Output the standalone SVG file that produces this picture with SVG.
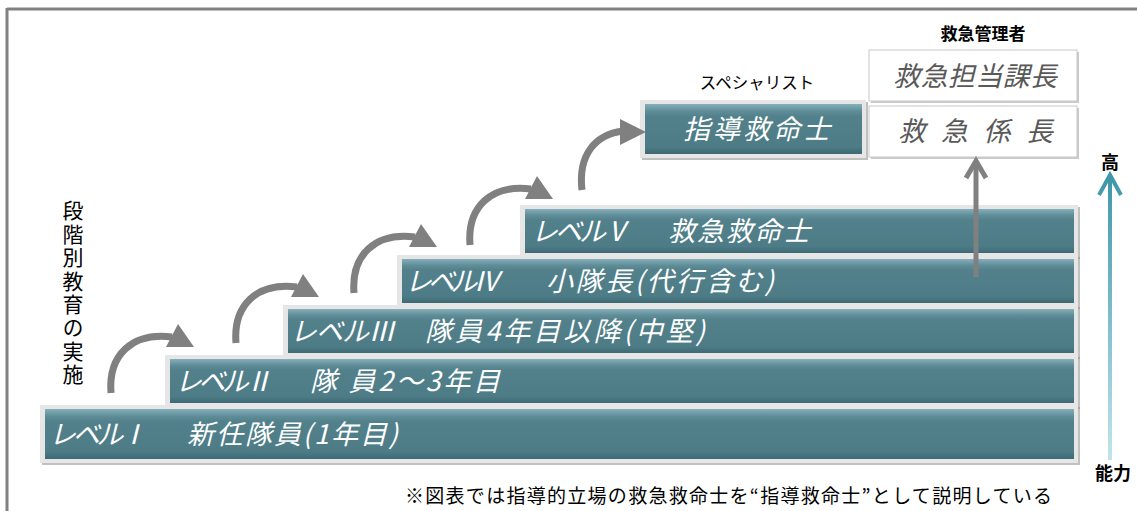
<svg xmlns="http://www.w3.org/2000/svg" width="1137" height="511" viewBox="0 0 1137 511">
<style>
.bt{font-family:"Noto Sans CJK JP","Noto Sans",sans-serif;font-style:italic;font-size:27px;fill:#ffffff}
.gt{font-family:"Noto Sans CJK JP","Noto Sans",sans-serif;font-style:italic;font-size:27px;fill:#595959}
.lbl{font-family:"Noto Sans CJK JP","Noto Sans",sans-serif;fill:#000}
.arc{fill:none;stroke:#808080;stroke-width:7}
.head{fill:#808080}
.frame{fill:#e6e6e6}
.shadow{fill:#8c8c8c;opacity:.55}
.inner{fill:url(#teal)}
</style>
<defs>
<linearGradient id="teal" x1="0" y1="0" x2="0" y2="1">
<stop offset="0" stop-color="#86b0ba"/>
<stop offset="0.14" stop-color="#5f8e99"/>
<stop offset="0.25" stop-color="#52818c"/>
<stop offset="0.85" stop-color="#4d7c87"/>
<stop offset="1" stop-color="#3d6973"/>
</linearGradient>
<linearGradient id="blue" gradientUnits="userSpaceOnUse" x1="0" y1="460" x2="0" y2="172">
<stop offset="0" stop-color="#c2e4eb"/>
<stop offset="1" stop-color="#3d95a8"/>
</linearGradient>
</defs>
<rect width="1137" height="511" fill="#ffffff"/>
<g id="frame">
<line x1="7" y1="9" x2="1137" y2="9" stroke="#808080" stroke-width="3"/>
<line x1="7" y1="8" x2="7" y2="511" stroke="#808080" stroke-width="3"/>
</g>
<text id="vertical-label" class="lbl" x="73" y="200" font-size="21" letter-spacing="2.4" style="writing-mode:vertical-rl">段階別教育の実施</text>
<g id="level5">
<rect class="shadow" x="522" y="207" width="558" height="52"/>
<rect class="frame" x="520" y="205" width="558" height="52"/>
<rect class="inner" x="525" y="209" width="549" height="44"/>
<text class="bt" x="531" y="241" textLength="99">レベルⅤ</text>
<text class="bt" x="668" y="241" textLength="142">救急救命士</text>
</g>
<g id="level4">
<rect class="shadow" x="399" y="257" width="681" height="52"/>
<rect class="frame" x="397" y="255" width="681" height="52"/>
<rect class="inner" x="402" y="259" width="672" height="44"/>
<text class="bt" x="405" y="291" textLength="95">レベルⅣ</text>
<text class="bt" x="546" y="291" textLength="228">小隊長(代行含む)</text>
</g>
<g id="level3">
<rect class="shadow" x="285" y="307" width="795" height="52"/>
<rect class="frame" x="283" y="305" width="795" height="52"/>
<rect class="inner" x="288" y="309" width="786" height="44"/>
<text class="bt" x="290" y="341" textLength="105">レベルⅢ</text>
<text class="bt" x="425" y="341" textLength="280">隊員4年目以降(中堅)</text>
</g>
<g id="level2">
<rect class="shadow" x="167" y="357" width="913" height="52"/>
<rect class="frame" x="165" y="355" width="913" height="52"/>
<rect class="inner" x="170" y="359" width="904" height="44"/>
<text class="bt" x="175" y="391" textLength="97">レベルⅡ</text>
<text class="bt" x="310" y="391" textLength="190">隊 員2～3年目</text>
</g>
<g id="level1">
<rect class="shadow" x="42" y="407" width="1038" height="58"/>
<rect class="frame" x="40" y="405" width="1038" height="58"/>
<rect class="inner" x="45" y="409" width="1029" height="50"/>
<text class="bt" x="49" y="444" textLength="98">レベルⅠ</text>
<text class="bt" x="187" y="444" textLength="211">新任隊員(1年目)</text>
</g>
<g id="specialist">
<rect class="shadow" x="642" y="102" width="226" height="58"/>
<rect class="frame" x="640" y="100" width="226" height="58"/>
<rect class="inner" x="645" y="104" width="217" height="50"/>
<text class="bt" x="683" y="139" font-size="28" textLength="147">指導救命士</text>
<text class="lbl" x="757" y="89" font-size="16.5" text-anchor="middle">スペシャリスト</text>
</g>
<g id="manager-head">
<rect x="871" y="52" width="208" height="51" fill="#a6a6a6" opacity=".6"/>
<rect x="869" y="50" width="208" height="51" fill="#ffffff" stroke="#c8c8c8" stroke-width="1"/>
<text class="gt" x="893" y="86" textLength="164">救急担当課長</text>
<text class="lbl" x="983" y="40" font-size="17" font-weight="bold" text-anchor="middle">救急管理者</text>
</g>
<g id="manager-chief">
<rect x="871" y="108" width="208" height="51" fill="#a6a6a6" opacity=".6"/>
<rect x="869" y="106" width="208" height="51" fill="#ffffff" stroke="#c8c8c8" stroke-width="1"/>
<text class="gt" x="898" y="141" textLength="155">救 急 係 長</text>
</g>
<g id="axis-labels" class="lbl" font-size="18" font-weight="bold" text-anchor="middle">
<text x="1110" y="169">高</text>
<text x="1113" y="480">能力</text>
</g>
<text id="note" class="lbl" x="405" y="503" font-size="19" textLength="647">※図表では指導的立場の救急救命士を“指導救命士”として説明している</text>
<g id="connectors">
<path class="arc" d="M111,393 C108,355 132,332 172,337"/>
<polygon class="head" points="178,324 166,347 194,347"/>
<path class="arc" d="M236,343 C233,305 257,282 297,287"/>
<polygon class="head" points="303,274 291,297 319,297"/>
<path class="arc" d="M354,293 C351,255 375,232 415,237"/>
<polygon class="head" points="421,224 409,247 437,247"/>
<path class="arc" d="M470,245 C467,207 491,184 531,189"/>
<polygon class="head" points="537,176 525,199 553,199"/>
<path class="arc" d="M582,190 C578,155 595,134 624,131"/>
<polygon class="head" points="620,119 620,145 646,132"/>
<g id="mgr-arrow" fill="none" stroke="#808080" stroke-width="5">
<line x1="976" y1="277" x2="976" y2="161"/>
<polyline points="966,178 976,161 986,178"/>
</g>
<g id="ability-arrow" fill="none" stroke="url(#blue)" stroke-width="4">
<line x1="1110" y1="460" x2="1110" y2="175"/>
<polyline points="1099,195 1110,175 1121,195"/>
</g>
</g>
</svg>
